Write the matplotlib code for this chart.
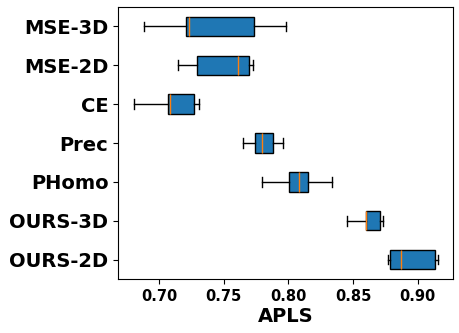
import matplotlib
matplotlib.use("Agg")
import matplotlib.pyplot as plt

methods = ["MSE-3D", "MSE-2D", "CE", "Prec", "PHomo", "OURS-3D", "OURS-2D"]
whislo = [0.6884, 0.7147, 0.6807, 0.7650, 0.7797, 0.8455, 0.8772]
q1     = [0.7204, 0.7294, 0.7070, 0.7743, 0.8001, 0.8597, 0.8788]
med    = [0.7232, 0.7611, 0.7085, 0.7792, 0.8084, 0.8600, 0.8868]
q3     = [0.7735, 0.7697, 0.7271, 0.7882, 0.8153, 0.8711, 0.9136]
whishi = [0.7983, 0.7728, 0.7310, 0.7960, 0.8339, 0.8734, 0.9159]
xticks = [0.70, 0.75, 0.80, 0.85, 0.90]

stats = []
for i in range(len(methods)):
    stats.append(dict(label=methods[i], whislo=whislo[i], q1=q1[i], med=med[i],
                      q3=q3[i], whishi=whishi[i], fliers=[]))
# bottom-to-top order
stats = stats[::-1]

fig = plt.figure(figsize=(4.6, 3.33), dpi=100)
ax = fig.add_axes([0.257, 0.162, 0.7285, 0.817])
bp = ax.bxp(stats, positions=range(1, len(stats) + 1), vert=False,
            patch_artist=True, showfliers=False)
for b in bp['boxes']:
    b.set_facecolor('#1f77b4')
    b.set_edgecolor('black')
for m in bp['medians']:
    m.set_color('#ff7f0e')

ax.set_xlim(0.6683, 0.9276)
ax.set_ylim(0.5, 7.5)
ax.set_xticks(xticks)
ax.set_xticklabels([f"{t:.2f}" for t in xticks], fontsize=10.5, fontweight='bold')
ax.set_yticklabels([s['label'] for s in stats], fontsize=14, fontweight='bold')
ax.set_xlabel("APLS", fontsize=14, fontweight='bold', labelpad=2)
fig.savefig("out.png", dpi=100)
